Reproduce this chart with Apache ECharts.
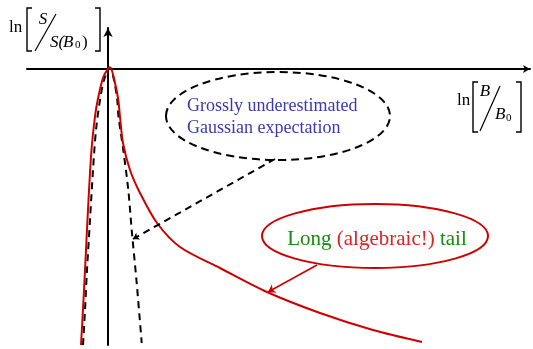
<!DOCTYPE html>
<html>
<head>
<meta charset="utf-8">
<script src="https://cdn.jsdelivr.net/npm/echarts@6/dist/echarts.min.js"></script>
<style>
html, body { margin: 0; padding: 0; background: #fff; }
#chart { width: 533px; height: 349px; }
</style>
</head>
<body>
<div id="chart"></div>
<script>
// sketch units: x = ln(B/B0), y = ln(S/S(B0))
var realCurve = [
	[-0.54, -5.52], [-0.49, -4.62], [-0.44, -3.62], [-0.39, -2.62], [-0.33, -1.62],
	[-0.26, -0.95], [-0.206, -0.62], [-0.09, -0.15], [0.04, 0.03], [0.14, -0.28],
	[0.206, -0.62], [0.24, -0.96], [0.30, -1.48], [0.44, -2.02], [0.64, -2.48],
	[0.98, -3.08], [1.44, -3.56], [2.24, -3.98], [3.18, -4.46], [4.24, -4.88],
	[5.30, -5.22], [6.28, -5.46]
];
var gaussCurve = [
	[-0.50, -5.52], [-0.46, -4.82], [-0.42, -4.02], [-0.36, -3.02], [-0.30, -2.02],
	[-0.24, -1.22], [-0.16, -0.62], [-0.08, -0.22], [0.04, 0.03], [0.12, -0.22],
	[0.185, -0.62], [0.21, -0.95], [0.306, -1.62], [0.406, -2.42], [0.474, -3.22],
	[0.574, -4.28], [0.674, -5.48]
];
// oval: centre x, centre y, radius x, radius y, text anchor x, text anchor y
var ovals = [
	[3.40, -0.94, 2.24, 0.88, 1.58, -0.974],
	[5.34, -3.34, 2.26, 0.64, 5.38, -3.406]
];
var ovalTexts = [
	'{b|Grossly underestimated}\n{b|Gaussian expectation}',
	'{g|Long }{r|(algebraic!)}{g| tail}'
];
var gaussPointer = [[3.34, -1.80], [0.50, -3.40]];
var tailPointer = [[4.18, -3.92], [3.20, -4.46]];

var serif = '"Liberation Serif", "Times New Roman", serif';

var chart = echarts.init(document.getElementById('chart'));

/*标签文字*/
function txt(text, x, y, size, italic, align) {
	return {
		type: 'text',
		x: x, y: y,
		style: {
			text: text,
			font: (italic ? 'italic ' : '') + size + 'px ' + serif,
			fill: '#000',
			align: align || 'left',
			verticalAlign: 'middle'
		}
	};
}
function bracket(x, y1, y2, dir) {
	return {
		type: 'polyline',
		shape: { points: [[x + dir * 5, y1], [x, y1], [x, y2], [x + dir * 5, y2]] },
		style: { stroke: '#000', lineWidth: 1.4, fill: null }
	};
}
function slash(x1, y1, x2, y2) {
	return {
		type: 'line',
		shape: { x1: x1, y1: y1, x2: x2, y2: y2 },
		style: { stroke: '#000', lineWidth: 1.2 }
	};
}

var option = {
	animation: false,
	grid: { left: 27, right: 3, top: 28, bottom: 4 },
	xAxis: {
		type: 'value', min: -1.62, max: 8.44,
		axisLine: { show: true, onZero: true, symbol: ['none', 'arrow'], symbolSize: [6, 7],
			lineStyle: { color: '#000', width: 2 } },
		axisTick: { show: false }, axisLabel: { show: false }, splitLine: { show: false }
	},
	yAxis: {
		type: 'value', min: -5.52, max: 0.82,
		axisLine: { show: true, onZero: true, symbol: ['none', 'arrow'], symbolSize: [7, 9],
			lineStyle: { color: '#000', width: 2 } },
		axisTick: { show: false }, axisLabel: { show: false }, splitLine: { show: false }
	},
	graphic: [
		txt('ln', 9, 28, 17),
		bracket(27, 8, 51, 1),
		txt('S', 43, 19.5, 17, true, 'center'),
		slash(35, 51, 56, 14),
		txt('S(', 50, 42.5, 17, true),
		txt('B', 63, 42.5, 17, true),
		txt('0', 75, 45.5, 11),
		txt(')', 82, 42.5, 17),
		bracket(100, 8, 51, -1),

		txt('ln', 457, 100.5, 17),
		bracket(473, 82, 132, 1),
		txt('B', 485, 91.5, 17, true, 'center'),
		slash(480, 131, 500, 86),
		txt('B', 495, 114.5, 17, true),
		txt('0', 506, 118, 11),
		bracket(521, 82, 132, -1)
	],
	series: [{
		type: 'line',
		data: gaussCurve,
		smooth: 0.3,
		showSymbol: false,
		lineStyle: { color: '#000', width: 2, type: [7, 5] },
		z: 3
	}, {
		type: 'line',
		data: realCurve,
		smooth: 0.3,
		showSymbol: false,
		lineStyle: { color: '#cc0000', width: 2 },
		z: 4
	}, {
		type: 'lines',
		coordinateSystem: 'cartesian2d',
		data: [{ coords: gaussPointer }],
		symbol: ['none', 'arrow'],
		symbolSize: 6,
		lineStyle: { color: '#000', width: 2, type: [7, 5], opacity: 1 },
		z: 5
	}, {
		type: 'lines',
		coordinateSystem: 'cartesian2d',
		data: [{ coords: tailPointer }],
		symbol: ['none', 'arrow'],
		symbolSize: 7,
		lineStyle: { color: '#cc0000', width: 1.6, opacity: 1 },
		z: 5
	}, {
		type: 'custom',
		data: ovals,
		z: 6,
		renderItem: function(params, api) {
			var i = params.dataIndex;
			var c = api.coord([api.value(0), api.value(1)]);
			var s = api.size([api.value(2), api.value(3)]);
			var t = api.coord([api.value(4), api.value(5)]);
			var dashed = i == 0;
			return {
				type: 'group',
				children: [{
					type: 'ellipse',
					shape: { cx: c[0], cy: c[1], rx: s[0], ry: s[1] },
					style: {
						fill: 'rgba(255,255,255,0)',
						stroke: dashed ? '#000' : '#cc0000',
						lineWidth: 2,
						lineDash: dashed ? [8, 5] : null
					}
				}, {
					type: 'text',
					x: t[0], y: t[1],
					style: {
						text: ovalTexts[i],
						align: dashed ? 'left' : 'center',
						verticalAlign: 'middle',
						rich: {
							b: { font: '18px ' + serif, fill: '#3a3aa8', lineHeight: 22 },
							g: { font: '21px ' + serif, fill: '#138a13' },
							r: { font: '21px ' + serif, fill: '#dd2222' }
						}
					}
				}]
			};
		}
	}]
};

chart.setOption(option);
</script>
</body>
</html>
